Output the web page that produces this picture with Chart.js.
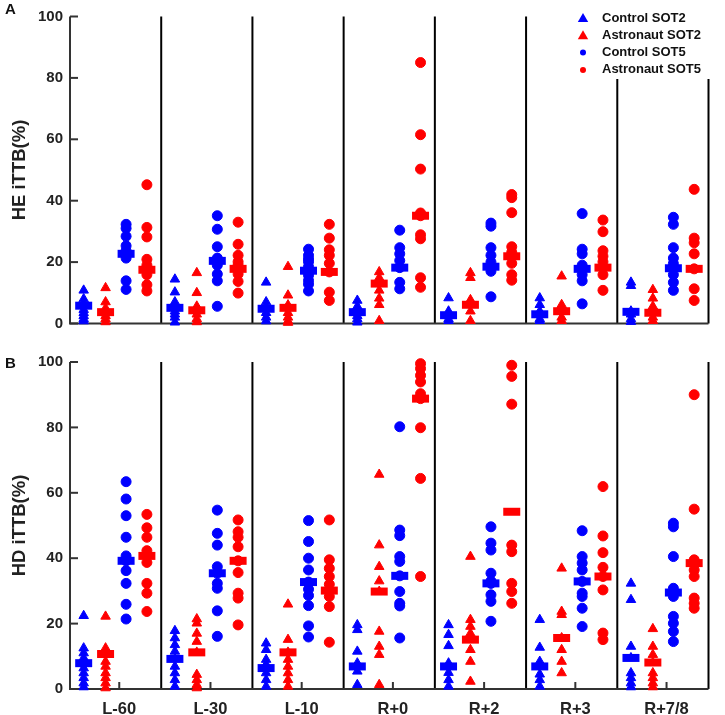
<!DOCTYPE html>
<html>
<head>
<meta charset="utf-8">
<script src="https://cdn.jsdelivr.net/npm/chart.js@4.4.0/dist/chart.umd.min.js"></script>
<style>
  body { margin: 0; background: #fff; font-family: "Liberation Sans", Arial, sans-serif; }
  .panel { position: absolute; left: 0; }
  .panel canvas { display: block; }
  .letter { position: absolute; left: 5px; font-weight: bold; font-size: 15px; line-height: 15px; color: #111; }
</style>
</head>
<body>
<div class="panel" style="top:0"><canvas id="chartA" width="725" height="340"></canvas></div>
<div class="panel" style="top:340px"><canvas id="chartB" width="725" height="375"></canvas></div>
<div class="letter" style="top:1px">A</div>
<div class="letter" style="top:355px">B</div>
<script>
// time points and y ticks
const timePoints = ['L-60', 'L-30', 'L-10', 'R+0', 'R+2', 'R+3', 'R+7/8'];
const yTicks = [0, 20, 40, 60, 80, 100];
const seriesNames = ['Control SOT2', 'Astronaut SOT2', 'Control SOT5', 'Astronaut SOT5'];

// HE iTTB(%) - one list per time point
const heCtrlSot2 = [
  [10.8, 8, 6.5, 5.8, 4.5, 3.5, 2.5, 1.5, 0.8],
  [14.4, 10.2, 7, 5.1, 4, 3, 2, 0.4],
  [13.4, 7, 5.5, 4.8, 3.5, 2, 0.8],
  [7.5, 5.6, 4.5, 3.7, 2.5, 1.5, 0.4],
  [8.3, 4, 3, 2.7, 1.5, 0.9],
  [8.3, 6.1, 4, 3, 1.5, 0.9],
  [13.4, 12.3, 4, 3, 1.5, 0.6]
];
const heAstroSot2 = [
  [11.6, 7, 5, 3.7, 2.5, 1.5, 0.5],
  [16.5, 10, 5.6, 4.3, 3, 1.5, 0.5],
  [18.5, 9.2, 6, 5.1, 3.5, 2, 0.8, 0.3],
  [16.8, 14.9, 13, 10.8, 8.2, 6.1, 0.9],
  [16.5, 14.9, 7.7, 6.1, 4, 0.9],
  [15.4, 6.1, 4.5, 4, 2, 0.9],
  [11, 8.2, 5.6, 3.5, 2, 0.9]
];
const heCtrlSot5 = [
  [32.3, 31, 28.4, 25.3, 23.7, 22.7, 21.3, 13.9, 11.1],
  [35.1, 30.7, 25, 21.3, 20.4, 19, 16.1, 13.9, 5.6],
  [24.2, 22.2, 21, 20.1, 18.5, 17.2, 15.7, 14, 12.8, 10.6],
  [30.4, 24.7, 22.7, 20.5, 18.2, 13.4, 11.3],
  [32.7, 31.7, 24.7, 22.2, 20, 18.5, 17, 8.7],
  [35.8, 24.2, 22.7, 19, 17.8, 15.9, 13.9, 6.4],
  [34.6, 32.3, 24.7, 21.3, 19.5, 18, 15.9, 13.4, 10.8]
];
const heAstroSot5 = [
  [45.2, 31.3, 28.2, 20.9, 19, 17.5, 15.9, 12.6, 10.6],
  [33, 25.8, 22.2, 20.1, 19, 17.8, 16.1, 13.7, 9.9],
  [32.3, 27.8, 24, 22.2, 19.6, 16.8, 10.2, 7.5],
  [85, 61.5, 50.3, 36, 35.1, 28.9, 27.6, 14.9, 11.8],
  [42, 41, 36.1, 25, 23.2, 21.9, 19.6, 15.9, 14.1],
  [33.7, 29.9, 23.7, 21.9, 20.1, 18.2, 15.9, 10.8],
  [43.7, 27.8, 26.3, 22.7, 17.8, 11.3, 7.5]
];
const heCtrlSot2Med = [5.8, 5.1, 4.8, 3.7, 2.7, 3, 3.8];
const heAstroSot2Med = [3.7, 4.3, 5.1, 13, 6.1, 4, 3.5];
const heCtrlSot5Med = [22.7, 20.4, 17.2, 18.2, 18.5, 17.8, 18];
const heAstroSot5Med = [17.5, 17.8, 16.8, 35.1, 21.9, 18.2, 17.8];

// HD iTTB(%)
const hdCtrlSot2 = [
  [22.4, 12.5, 11, 9.5, 7.9, 6.4, 4.9, 3.4, 1.8, 0.6],
  [17.8, 15.6, 13.5, 11.5, 9.2, 6.9, 4.9, 2.8, 0.8],
  [14, 12, 9, 7.5, 6.4, 4.9, 2.8, 0.8],
  [19.6, 18.1, 11.5, 7.9, 6.9, 5.4, 1.3],
  [19.6, 16.6, 13.2, 7.9, 6.9, 5, 2.8, 0.8],
  [21.2, 12.7, 8.4, 6.9, 4.5, 2.8, 0.8],
  [32.3, 27.3, 13, 9.5, 4.9, 3.4, 1.8, 0.6]
];
const hdAstroSot2 = [
  [22.2, 12.5, 10.7, 8.4, 6.9, 4.9, 3.4, 1.8, 0.3],
  [21.4, 20.1, 17, 14.5, 11.2, 4.4, 2.8, 1.3, 0.3],
  [25.9, 15.1, 11.2, 9, 6.9, 4.9, 2.8, 0.8],
  [65.6, 44, 37.4, 33, 29.8, 17.6, 13, 10.5, 1.3],
  [40.5, 21.2, 19.1, 17, 15.1, 12, 8.4, 2.3],
  [36.9, 23.7, 22.7, 15.6, 12, 8.4, 4.9],
  [18.4, 13, 10.5, 8.1, 4.9, 3.4, 1.8, 0.6]
];
const hdCtrlSot5 = [
  [63.4, 58.1, 53, 46.4, 40.7, 39.2, 36.2, 32.3, 25.9, 21.4],
  [54.7, 47.6, 44, 37.4, 35.4, 32.3, 30.8, 23.9, 16.1],
  [51.5, 45.1, 40, 36.4, 32.7, 30.5, 28.6, 25.5, 19.3, 15.9],
  [80.2, 48.6, 46.9, 40.5, 39, 34.6, 29.8, 26.2, 25.4, 15.6],
  [49.6, 44.6, 42.5, 35.4, 33, 32.3, 28.8, 26.8, 20.7],
  [48.4, 40.5, 38.5, 36.4, 32.9, 29.3, 28.3, 24.7, 19.1],
  [50.7, 49.6, 40.5, 30.8, 29.5, 28.3, 22.2, 20.1, 17.6, 14.5]
];
const hdAstroSot5 = [
  [53.4, 49.3, 46.4, 42.3, 40.7, 38.7, 32.3, 29.3, 23.7],
  [51.7, 48.1, 46.4, 43.5, 39.2, 35.6, 29.3, 27.8, 19.6],
  [51.7, 39.5, 36.9, 34.4, 32, 30.1, 28.3, 25.2, 14.3],
  [99.5, 98, 95.9, 93.9, 90.3, 88.8, 79.9, 64.4, 34.4],
  [99, 95.6, 87.1, 44, 42, 32.3, 29.8, 26.2],
  [61.9, 46.8, 41.7, 37.2, 34.4, 30.3, 17.1, 15.1],
  [90, 55, 39.5, 38.5, 36.4, 34.4, 27.8, 26.2, 24.7]
];
const hdCtrlSot2Med = [7.9, 9.2, 6.4, 6.9, 6.9, 6.9, 9.5];
const hdAstroSot2Med = [10.7, 11.2, 11.2, 29.8, 15.1, 15.6, 8.1];
const hdCtrlSot5Med = [39.2, 35.4, 32.7, 34.6, 32.3, 32.9, 29.5];
const hdAstroSot5Med = [40.7, 39.2, 30.1, 88.8, 54.2, 34.4, 38.5];

const BLUE = '#0000ff';
const RED = '#ff0000';
const FONT = '"Liberation Sans", Arial, sans-serif';
const colOffsets = [0.15, 0.39, 0.615, 0.843];
const TICK_POS = 0.54;
const styles = [
  { color: BLUE, shape: 'triangle' },
  { color: RED, shape: 'triangle' },
  { color: BLUE, shape: 'circle' },
  { color: RED, shape: 'circle' }
];

function pointData(series, k) {
  return series.flatMap((vals, g) => vals.map(v => ({ x: g + colOffsets[k], y: v })));
}

function buildDatasets(seriesList, medianList) {
  const pts = seriesList.map((s, k) => ({
    label: seriesNames[k],
    data: pointData(s, k),
    pointStyle: styles[k].shape,
    pointRadius: styles[k].shape === 'triangle' ? 5.5 : 5,
    pointBackgroundColor: styles[k].color,
    pointBorderColor: styles[k].color,
    pointBorderWidth: 1,
    showLine: false,
    clip: false
  }));
  // medians drawn as short thick bars
  const meds = medianList.map((m, k) => ({
    label: seriesNames[k] + ' median',
    data: m.map((v, g) => ({ x: g + colOffsets[k], y: v })),
    pointStyle: 'line',
    pointRadius: 8.5,
    pointBorderWidth: 8,
    pointBorderColor: styles[k].color,
    pointBackgroundColor: styles[k].color,
    showLine: false,
    clip: false
  }));
  return pts.concat(meds);
}

// separators, axis lines, inward ticks, legend box
const panelDecor = {
  id: 'panelDecor',
  beforeDatasetsDraw(chart, args, opts) {
    const { ctx, chartArea: a, scales: { x, y } } = chart;
    ctx.save();
    ctx.lineWidth = 2;
    ctx.strokeStyle = '#000';
    for (let g = 1; g <= timePoints.length; g++) {
      const px = x.getPixelForValue(g);
      ctx.beginPath();
      ctx.moveTo(px, a.top);
      ctx.lineTo(px, a.bottom);
      ctx.stroke();
    }
    ctx.strokeStyle = '#333';
    ctx.beginPath();
    ctx.moveTo(a.left, a.top);
    ctx.lineTo(a.left, a.bottom);
    ctx.lineTo(x.getPixelForValue(timePoints.length), a.bottom);
    ctx.stroke();
    yTicks.forEach(v => {
      const py = y.getPixelForValue(v);
      ctx.beginPath();
      ctx.moveTo(a.left, py);
      ctx.lineTo(a.left + 8, py);
      ctx.stroke();
    });
    if (opts.xTicks) {
      timePoints.forEach((_, i) => {
        const px = x.getPixelForValue(i + TICK_POS);
        ctx.beginPath();
        ctx.moveTo(px, a.bottom);
        ctx.lineTo(px, a.bottom - 7);
        ctx.stroke();
      });
    }
    ctx.restore();
  },
  afterDraw(chart, args, opts) {
    if (!opts.legend) return;
    const { ctx } = chart;
    ctx.save();
    ctx.fillStyle = '#fff';
    ctx.fillRect(572, 0, 146, 79);
    ctx.font = 'bold 13px ' + FONT;
    ctx.textBaseline = 'middle';
    seriesNames.forEach((name, k) => {
      const cy = 18 + k * 17.3;
      const tri = styles[k].shape === 'triangle';
      ctx.fillStyle = styles[k].color;
      ctx.strokeStyle = styles[k].color;
      Chart.helpers.drawPoint(ctx, {
        pointStyle: styles[k].shape,
        radius: tri ? 6 : 3,
        borderWidth: 0,
        rotation: 0
      }, 583, cy + (tri ? 1 : 0));
      ctx.fillStyle = '#111';
      ctx.fillText(name, 602, cy);
    });
    ctx.restore();
  }
};

function makePanel(id, title, seriesList, medianList, showX, padTop, xHeight) {
  return new Chart(document.getElementById(id), {
    type: 'scatter',
    data: { datasets: buildDatasets(seriesList, medianList) },
    plugins: [panelDecor],
    options: {
      responsive: false,
      animation: false,
      events: [],
      layout: { padding: { top: padTop, right: 3, left: 0, bottom: 0 } },
      plugins: {
        legend: { display: false },
        tooltip: { enabled: false },
        panelDecor: { legend: !showX, xTicks: showX }
      },
      scales: {
        x: {
          type: 'linear',
          min: 0,
          max: timePoints.length,
          grid: { display: false, drawTicks: false },
          border: { display: false },
          afterBuildTicks: s => { s.ticks = timePoints.map((_, i) => ({ value: i + TICK_POS })); },
          afterFit: s => { s.height = xHeight; },
          ticks: {
            display: showX,
            autoSkip: false,
            maxRotation: 0,
            padding: 11,
            color: '#222',
            font: { family: FONT, size: 16.5, weight: 'bold' },
            callback: (v, i) => timePoints[i]
          }
        },
        y: {
          min: 0,
          max: 100,
          grid: { display: false, drawTicks: false },
          border: { display: false },
          afterFit: s => { s.width = 70; },
          ticks: {
            stepSize: 20,
            padding: 7,
            color: '#222',
            font: { family: FONT, size: 15, weight: 'bold' }
          },
          title: {
            display: true,
            text: title,
            color: '#222',
            font: { family: FONT, size: 18.5, weight: 'bold' },
            padding: { top: 9, bottom: 0 }
          }
        }
      }
    }
  });
}

makePanel('chartA', 'HE iTTB(%)',
  [heCtrlSot2, heAstroSot2, heCtrlSot5, heAstroSot5],
  [heCtrlSot2Med, heAstroSot2Med, heCtrlSot5Med, heAstroSot5Med], false, 6, 12);
makePanel('chartB', 'HD iTTB(%)',
  [hdCtrlSot2, hdAstroSot2, hdCtrlSot5, hdAstroSot5],
  [hdCtrlSot2Med, hdAstroSot2Med, hdCtrlSot5Med, hdAstroSot5Med], true, 22, 26);
</script>
</body>
</html>
